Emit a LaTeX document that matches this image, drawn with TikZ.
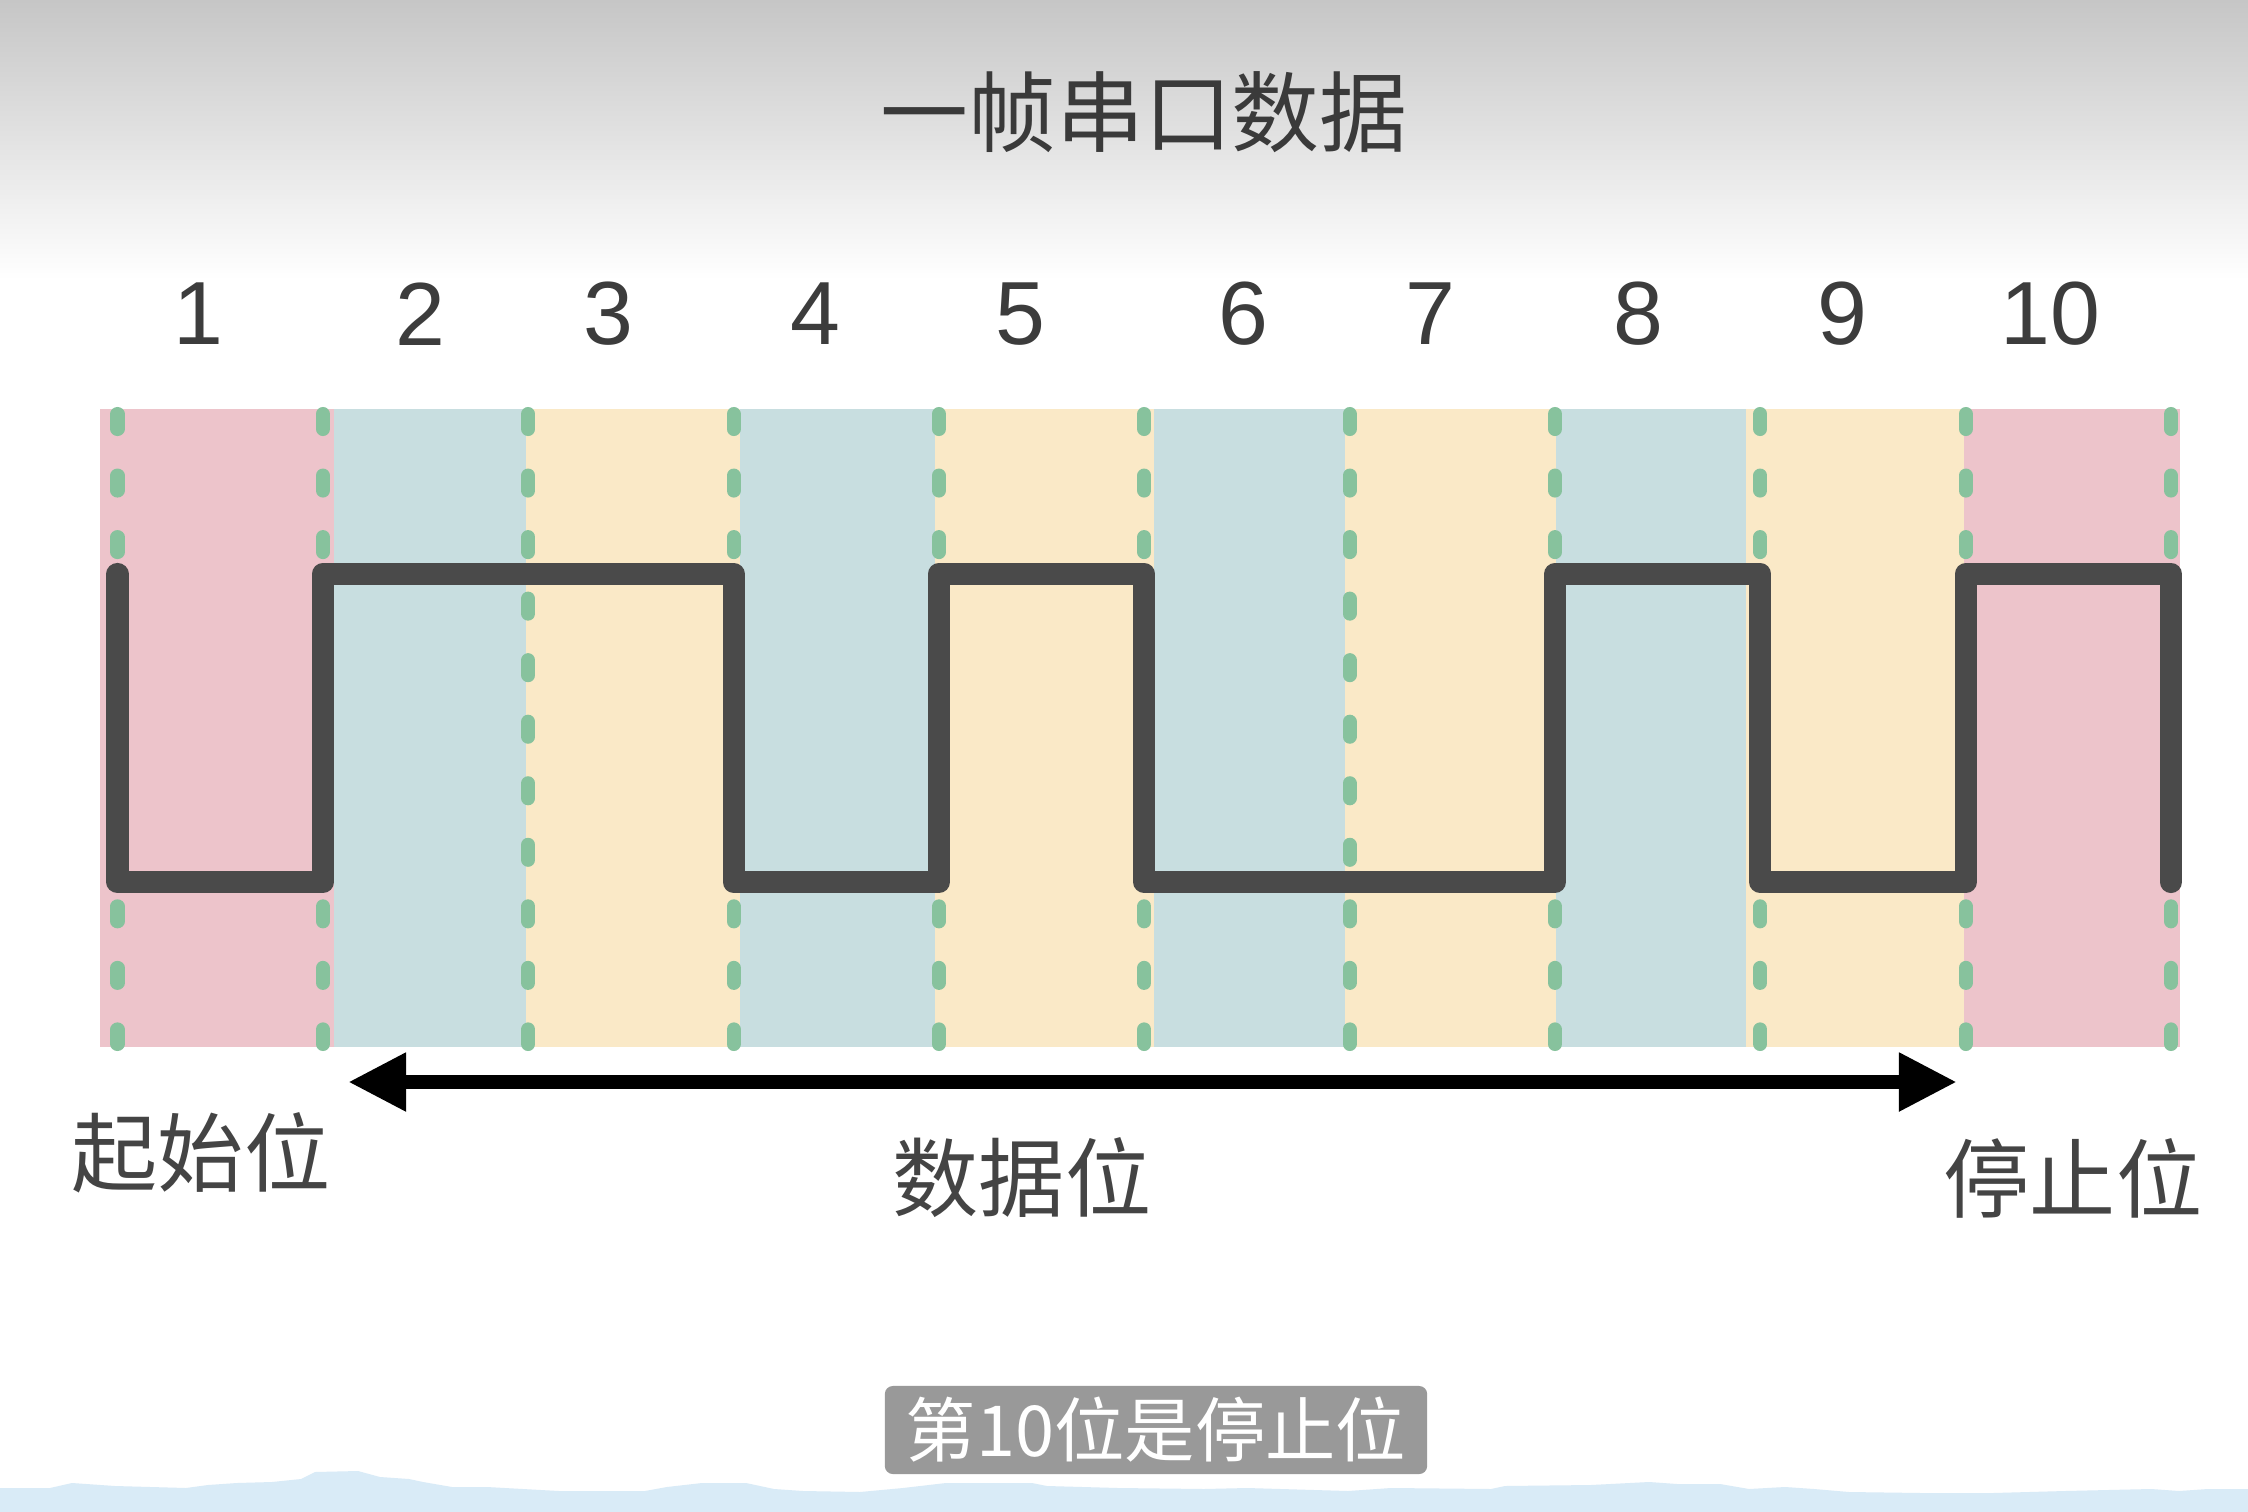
\documentclass[tikz,border=0pt]{standalone}
\usepackage{fontspec}
\setmainfont{Liberation Sans}
\newfontfamily\cjkfont{Noto Sans CJK SC}
\usepackage{tikz}
\usetikzlibrary{arrows.meta,positioning}
\usepackage{xcolor}
\definecolor{titlegray}{RGB}{58,58,58}
\definecolor{labelgray}{RGB}{68,68,68}
\definecolor{numgray}{RGB}{60,60,60}
\definecolor{bandpink}{RGB}{237,196,203}
\definecolor{bandblue}{RGB}{200,222,224}
\definecolor{bandyellow}{RGB}{250,233,199}
\definecolor{tickgreen}{RGB}{135,194,157}
\definecolor{wavegray}{RGB}{74,74,74}
\definecolor{capgray}{RGB}{153,153,153}
\definecolor{topgray}{RGB}{198,198,198}
\definecolor{seablue}{RGB}{217,235,247}
\tikzset{
  titletext/.style={font=\cjkfont\fontsize{25pt}{30pt}\selectfont,text=titlegray,inner sep=0pt},
  bitnum/.style={font=\fontsize{25.5pt}{30pt}\selectfont,text=numgray,inner sep=0pt},
  fieldlabel/.style={font=\cjkfont\fontsize{24.5pt}{30pt}\selectfont,text=labelgray,inner sep=0pt},
  capbox/.style={fill=capgray,text=white,rounded corners=0.8mm,minimum width=5.42cm,minimum height=0.88cm,
    inner sep=0pt,font=\cjkfont\fontsize{20pt}{24pt}\selectfont},
  tick/.style={draw=tickgreen,line width=4pt,line cap=round,dash pattern=on 4.27pt off 13.23pt},
  wave/.style={draw=wavegray,line width=6.3pt,line cap=round,line join=round},
  span/.style={{Triangle[length=16.5pt,width=15.6pt]}-{Triangle[length=16.5pt,width=15.6pt]},line width=4.2pt,draw=black}
}
\begin{document}
\begin{tikzpicture}[x=0.01cm,y=-0.01cm]
  \useasboundingbox (0,0) rectangle (2248,1512);
  \fill[white] (0,0) rectangle (2248,1512);
  \shade[top color=topgray,bottom color=white] (0,0) rectangle (2248,280);
  % sea strip at the bottom
  \fill[seablue] (0,1488) -- (50,1488) -- (72,1483) -- (115,1486) -- (186,1488) -- (208,1485) -- (237,1483)
    -- (272,1482) -- (301,1479) -- (315,1472) -- (358,1471) -- (380,1477) -- (409,1479) -- (423,1482)
    -- (452,1487) -- (487,1487) -- (559,1491) -- (645,1491) -- (667,1487) -- (702,1483) -- (746,1483)
    -- (774,1489) -- (803,1491) -- (860,1492) -- (903,1488) -- (946,1483) -- (1032,1483) -- (1047,1486)
    -- (1118,1488) -- (1204,1489) -- (1247,1488) -- (1348,1491) -- (1391,1488) -- (1491,1489) -- (1505,1486)
    -- (1591,1485) -- (1649,1482) -- (1677,1484) -- (1720,1484) -- (1749,1489) -- (1785,1487) -- (1814,1489)
    -- (1849,1492) -- (1921,1493) -- (1993,1493) -- (2065,1491) -- (2151,1489) -- (2179,1491) -- (2208,1489)
    -- (2248,1489) -- (2248,1512) -- (0,1512) -- cycle;

  \node[titletext] (title) at (1144,112) {一帧串口数据};

  % bit slots
  \foreach \a/\b/\c in {100/334/bandpink,334/526/bandblue,526/740/bandyellow,740/935/bandblue,
      935/1154/bandyellow,1154/1345/bandblue,1345/1556/bandyellow,1556/1746/bandblue,
      1746/1964/bandyellow,1964/2180/bandpink}
    \fill[\c] (\a,409) rectangle (\b,1047);
  \foreach \x in {117.5,322.9,528.2,733.6,938.9,1144.3,1349.6,1555,1760.3,1965.7,2171}
    \draw[tick] (\x,414) -- (\x,1044);
  \foreach \x/\n in {198/1,420.6/2,608.6/3,815.5/4,1020.4/5,1243/6,1430/7,1638/8,1842/9,2050/10}
    \node[bitnum] (n\n) at (\x,314) {\n};

  % line level
  \draw[wave] (117.5,574) -- (117.5,882) -- (322.9,882) -- (322.9,574) -- (733.6,574) -- (733.6,882)
    -- (938.9,882) -- (938.9,574) -- (1144.3,574) -- (1144.3,882) -- (1555,882) -- (1555,574)
    -- (1760.3,574) -- (1760.3,882) -- (1965.7,882) -- (1965.7,574) -- (2171,574) -- (2171,882);

  \coordinate (dstart) at (348,1082);
  \coordinate (dend) at (1957,1082);
  \draw[span] (dstart) -- (dend);

  \node[fieldlabel] (startbit) at (201,1153) {起始位};
  \node[fieldlabel] (databits) at (1022,1178) {数据位};
  \node[fieldlabel] (stopbit) at (2073,1178) {停止位};

  \node[capbox] (caption) at (1156,1430) {第10位是停止位};
\end{tikzpicture}
\end{document}
